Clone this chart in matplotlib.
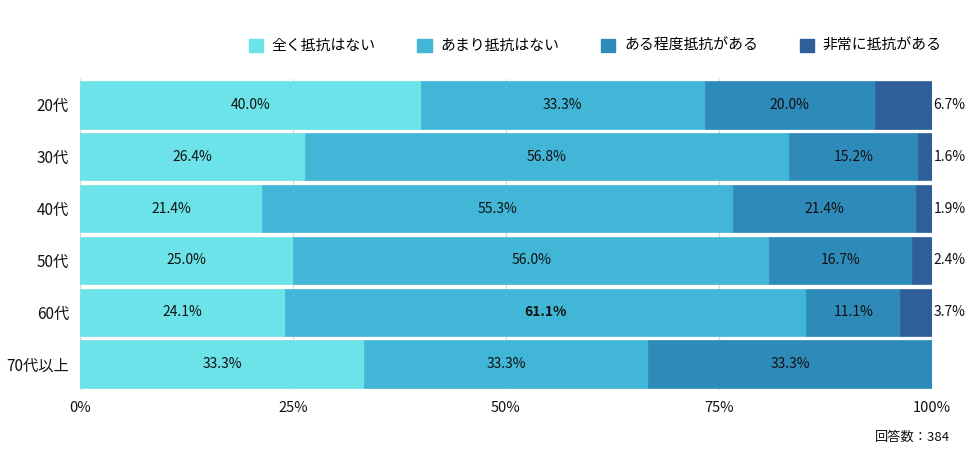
import numpy as np
import matplotlib.pyplot as plt
from matplotlib.patches import Patch

plt.rcParams['font.family'] = ['Noto Sans CJK JP', 'DejaVu Sans']

categories = ['20代', '30代', '40代', '50代', '60代', '70代以上']
series_names = ['全く抵抗はない', 'あまり抵抗はない', 'ある程度抵抗がある', '非常に抵抗がある']
values = [
    [40.0, 26.4, 21.4, 25.0, 24.1, 33.3],
    [33.3, 56.8, 55.3, 56.0, 61.1, 33.3],
    [20.0, 15.2, 21.4, 16.7, 11.1, 33.3],
    [6.7, 1.6, 1.9, 2.4, 3.7, 0.0],
]
colors = ['#6be3e8', '#42b6d6', '#2e8ab8', '#2e5f99']
x_ticks = [0, 25, 50, 75, 100]
x_tick_labels = ['0%', '25%', '50%', '75%', '100%']
note = '回答数：384'

fig = plt.figure(figsize=(9.76, 4.59), dpi=100)
ax = fig.add_axes([80 / 976, 1 - 390 / 459, 852 / 976, 311 / 459])

data = np.array(values)
totals = data.sum(axis=0)
widths = data / totals * 100
y = np.arange(len(categories))
left = np.zeros(len(categories))
max_val = data.max()

for s in range(len(series_names)):
    ax.barh(y, widths[s], left=left, height=0.91, color=colors[s],
            edgecolor=colors[s], linewidth=0.5, zorder=2)
    for i in range(len(categories)):
        v = data[s, i]
        if v <= 0:
            continue
        weight = 'bold' if v == max_val else 'normal'
        if v < 8:
            ax.text(100.2, y[i], f'{v:.1f}%', ha='left', va='center',
                    fontsize=10, color='#111111', zorder=3)
        else:
            ax.text(left[i] + widths[s, i] / 2, y[i], f'{v:.1f}%', ha='center',
                    va='center', fontsize=10, color='#111111', fontweight=weight, zorder=3)
    left += widths[s]

ax.set_xlim(0, 100)
ax.set_ylim(len(categories) - 0.5, -0.5)
ax.set_yticks(y)
ax.set_yticklabels(categories, fontsize=11, color='#111111')
ax.set_xticks(x_ticks)
ax.set_xticklabels(x_tick_labels, fontsize=10.5, color='#111111')
ax.tick_params(length=0)
ax.tick_params(axis='y', pad=8)
ax.tick_params(axis='x', pad=8)
ax.grid(axis='x', color='#d8d8d8', linewidth=1, zorder=0)
for sp in ax.spines.values():
    sp.set_visible(False)

handles = [Patch(facecolor=c, edgecolor=c) for c in colors]
fig.legend(handles, series_names, ncol=4, loc='center right',
           bbox_to_anchor=(955 / 976, 1 - 46 / 459), frameon=False,
           fontsize=10.7, handlelength=0.95, handleheight=0.95,
           columnspacing=2.8, handletextpad=0.6)

fig.text(950 / 976, 1 - 437 / 459, note, ha='right', va='center', fontsize=9.5,
         color='#111111')

fig.savefig('out.png', dpi=100)
